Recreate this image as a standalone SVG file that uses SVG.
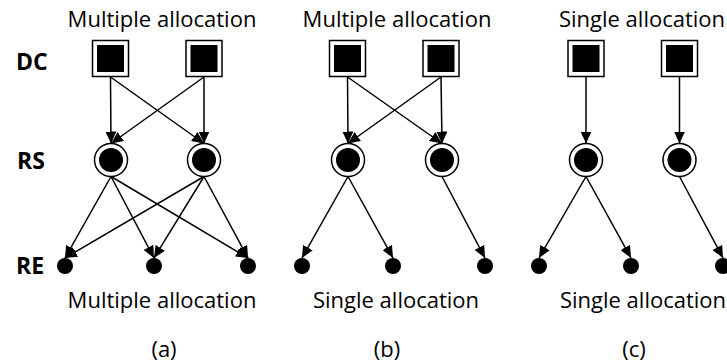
<svg xmlns="http://www.w3.org/2000/svg" width="727" height="364" viewBox="0 0 727 364">
  <style>
    .lbl { font-family: "Open Sans", "Liberation Sans", sans-serif; font-size: 22px; fill: #000; text-anchor: middle; }
    .tier { font-family: "Open Sans", "Liberation Sans", sans-serif; font-size: 23px; font-weight: bold; fill: #000; }
    .frame { fill: #fff; stroke: #000; stroke-width: 1.5; }
    .core { fill: #000; }
    .edge { stroke: #000; stroke-width: 1.5; fill: none; marker-end: url(#arrow); }
  </style>
  <defs>
    <marker id="arrow" markerUnits="userSpaceOnUse" markerWidth="13" markerHeight="11" refX="12" refY="5.5" orient="auto">
      <path d="M0,0 L12,5.5 L0,11 Z" fill="#000"/>
    </marker>
    <g id="dc">
      <rect class="frame" x="-18" y="-18" width="36" height="36"/>
      <rect class="core" x="-13.5" y="-13.5" width="27" height="27"/>
    </g>
    <g id="rs">
      <circle class="frame" r="16.5"/>
      <circle class="core" r="12"/>
    </g>
    <circle id="re" r="8" fill="#000"/>
  </defs>

  <!-- tier labels -->
  <g id="tier-labels">
    <text class="tier" x="16" y="70">DC</text>
    <text class="tier" x="17" y="169">RS</text>
    <text class="tier" x="16" y="274">RE</text>
  </g>

  <!-- connectors -->
  <g id="connectors">
    <!-- (a) -->
    <line class="edge" x1="110.5" y1="77" x2="111" y2="143.5"/>
    <line class="edge" x1="110.5" y1="77" x2="204" y2="143.5"/>
    <line class="edge" x1="204" y1="77" x2="111" y2="143.5"/>
    <line class="edge" x1="204" y1="77" x2="204" y2="143.5"/>
    <line class="edge" x1="111" y1="176.5" x2="65" y2="258"/>
    <line class="edge" x1="111" y1="176.5" x2="154" y2="258"/>
    <line class="edge" x1="111" y1="176.5" x2="248" y2="258"/>
    <line class="edge" x1="204" y1="176.5" x2="65" y2="258"/>
    <line class="edge" x1="204" y1="176.5" x2="154" y2="258"/>
    <line class="edge" x1="204" y1="176.5" x2="248" y2="258"/>
    <!-- (b) -->
    <line class="edge" x1="347.5" y1="77" x2="348" y2="143.5"/>
    <line class="edge" x1="347.5" y1="77" x2="442" y2="143.5"/>
    <line class="edge" x1="441" y1="77" x2="348" y2="143.5"/>
    <line class="edge" x1="441" y1="77" x2="442" y2="143.5"/>
    <line class="edge" x1="348" y1="176.5" x2="302" y2="258"/>
    <line class="edge" x1="348" y1="176.5" x2="393" y2="258"/>
    <line class="edge" x1="442" y1="176.5" x2="485" y2="258"/>
    <!-- (c) -->
    <line class="edge" x1="586" y1="77" x2="586" y2="143.5"/>
    <line class="edge" x1="679.5" y1="77" x2="679.5" y2="143.5"/>
    <line class="edge" x1="586" y1="176.5" x2="539" y2="258"/>
    <line class="edge" x1="586" y1="176.5" x2="631" y2="258"/>
    <line class="edge" x1="679.5" y1="176.5" x2="723" y2="258"/>
  </g>

  <!-- panel (a) -->
  <g id="a-dc1"><use href="#dc" x="110.5" y="58.5"/></g>
  <g id="a-dc2"><use href="#dc" x="204" y="58.5"/></g>
  <g id="a-rs1"><use href="#rs" x="111" y="160"/></g>
  <g id="a-rs2"><use href="#rs" x="204" y="160"/></g>
  <g id="a-re1"><use href="#re" x="65" y="266"/></g>
  <g id="a-re2"><use href="#re" x="154" y="266"/></g>
  <g id="a-re3"><use href="#re" x="248" y="266"/></g>

  <!-- panel (b) -->
  <g id="b-dc1"><use href="#dc" x="347.5" y="58.5"/></g>
  <g id="b-dc2"><use href="#dc" x="441" y="58.5"/></g>
  <g id="b-rs1"><use href="#rs" x="348" y="160"/></g>
  <g id="b-rs2"><use href="#rs" x="442" y="160"/></g>
  <g id="b-re1"><use href="#re" x="302" y="266"/></g>
  <g id="b-re2"><use href="#re" x="393" y="266"/></g>
  <g id="b-re3"><use href="#re" x="485" y="266"/></g>

  <!-- panel (c) -->
  <g id="c-dc1"><use href="#dc" x="586" y="58.5"/></g>
  <g id="c-dc2"><use href="#dc" x="679.5" y="58.5"/></g>
  <g id="c-rs1"><use href="#rs" x="586" y="160"/></g>
  <g id="c-rs2"><use href="#rs" x="679.5" y="160"/></g>
  <g id="c-re1"><use href="#re" x="539" y="266"/></g>
  <g id="c-re2"><use href="#re" x="631" y="266"/></g>
  <g id="c-re3"><use href="#re" x="723" y="266"/></g>

  <!-- captions -->
  <g id="captions">
    <text class="lbl" x="162" y="27">Multiple allocation</text>
    <text class="lbl" x="397" y="27">Multiple allocation</text>
    <text class="lbl" x="642" y="27">Single allocation</text>
    <text class="lbl" x="162" y="308">Multiple allocation</text>
    <text class="lbl" x="396" y="308">Single allocation</text>
    <text class="lbl" x="643" y="308">Single allocation</text>
    <text class="lbl" x="164" y="357">(a)</text>
    <text class="lbl" x="387" y="357">(b)</text>
    <text class="lbl" x="634" y="357">(c)</text>
  </g>
</svg>
